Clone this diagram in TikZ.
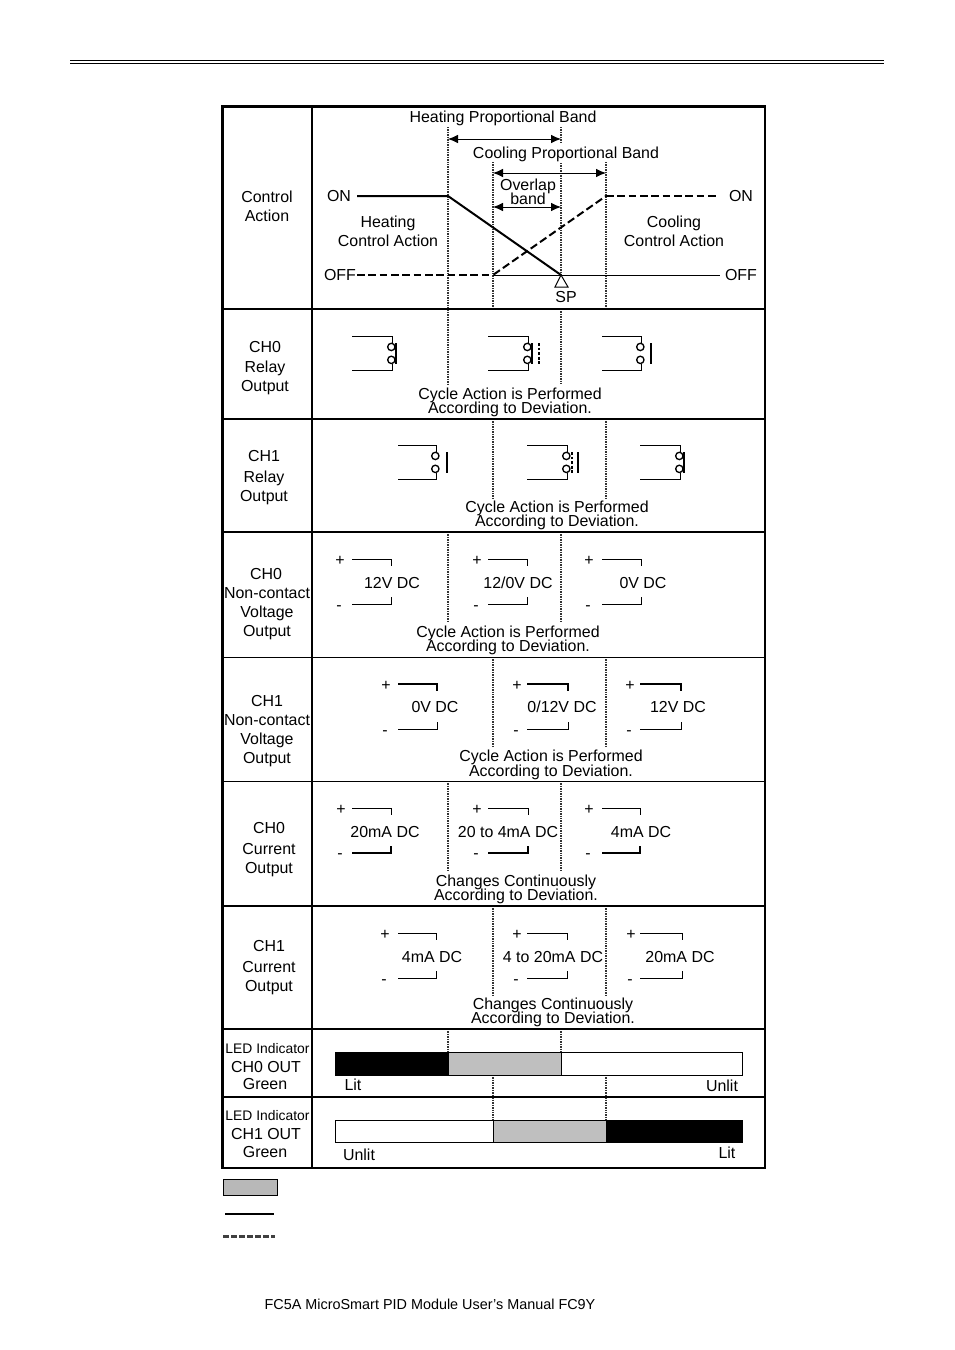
\documentclass[tikz,border=0pt]{standalone}
\usepackage{fontspec}
\setmainfont{Liberation Sans}
\usetikzlibrary{arrows.meta}
\tikzset{
  x=0.75pt,y=-0.75pt,
  frame/.style={line width=1.9pt},
  gridthin/.style={line width=0.7pt},
  dotv/.style={line width=0.85pt,dash pattern=on 1.1pt off 0.75pt,black!80,xshift=0.3pt},
  thinw/.style={line width=0.75pt},
  thickw/.style={line width=1.5pt},
  lab/.style={font=\fontsize{11.95pt}{14pt}\selectfont,inner sep=0pt,anchor=center,text height=8.6pt,text depth=0pt},
  smalllab/.style={font=\fontsize{10.4pt}{12pt}\selectfont,inner sep=0pt,anchor=center,text height=7.5pt,text depth=0pt},
  dim/.style={line width=0.75pt,{Latex[length=7.5pt,width=6.5pt]}-{Latex[length=7.5pt,width=6.5pt]}},
  coil/.style={draw,line width=1pt,fill=white,circle,inner sep=0pt,minimum size=5.5pt},
}
% relay symbol: #1 name prefix, #2 left x, #3 right x, #4 top y, #5 bottom y
\newcommand{\relaybody}[5]{%
  \coordinate (#1tl) at (#2,#4);
  \coordinate (#1tr) at (#3,#4);
  \coordinate (#1bl) at (#2,#5);
  \coordinate (#1br) at (#3,#5);
  \node[coil] (#1u) at ([xshift=-0.5pt,yshift=-8.2pt]#1tr) {};
  \node[coil] (#1d) at ([xshift=-0.5pt,yshift=7.6pt]#1br) {};
  \draw[thinw] (#1tl) -- (#1tr) -- ([xshift=0.5pt]#1u.north);
  \draw[thinw] (#1bl) -- (#1br) -- ([xshift=0.5pt]#1d.south);
}
% output bracket: #1 prefix, #2 left x, #3 right x, #4 top y, #5 bottom y, #6 top style, #7 bottom style
\newcommand{\outbracket}[7]{%
  \coordinate (#1tl) at (#2,#4);
  \coordinate (#1tr) at (#3,#4);
  \coordinate (#1te) at (#3,#4+7);
  \coordinate (#1bl) at (#2,#5);
  \coordinate (#1br) at (#3,#5);
  \coordinate (#1be) at (#3,#5-7);
  \draw[#6] (#1tl) -- (#1tr) -- (#1te);
  \draw[#7] (#1bl) -- (#1br) -- (#1be);
}
\begin{document}
\begin{tikzpicture}
\useasboundingbox (0,0) rectangle (954,1350);
\fill[white] (0,0) rectangle (954,1350);

% header rule
\coordinate (ha) at (70,60.6); \coordinate (hb) at (884,60.6);
\coordinate (hc) at (70,63); \coordinate (hd) at (884,63);
\draw[line width=1.3pt] (ha) -- (hb);
\draw[line width=0.6pt] (hc) -- (hd);

% dotted verticals
\foreach \xa/\ya/\yb in {448/127/385,561/127/143,561/163/275,561/309/385,493/162/309,606/162/309,
  493/419/498,606/419/498,448/532/623,561/532/623,493/657/747,606/657/747,
  448/781/872,561/781/872,493/906/995,606/906/995,448/1029/1052,561/1029/1052,
  493/1075/1120,606/1075/1120}{
  \coordinate (va) at (\xa,\ya); \coordinate (vb) at (\xa,\yb);
  \draw[dotv] (va) -- (vb);
}

% table
\coordinate (tl) at (222.5,106.5); \coordinate (br) at (765,1168);
\draw[frame] (tl) rectangle (br);
\coordinate (vt) at (312,106.5); \coordinate (vbm) at (312,1168);
\draw[frame] (vt) -- (vbm);
\foreach \yy in {309,419,906,1029,1097}{
  \coordinate (ga) at (222.5,\yy); \coordinate (gb) at (765,\yy);
  \draw[line width=1.6pt] (ga) -- (gb);
}
\coordinate (ga) at (222.5,532); \coordinate (gb) at (765,532);
\draw[line width=1.2pt] (ga) -- (gb);
\foreach \yy in {657,781}{
  \coordinate (ga) at (222.5,\yy); \coordinate (gb) at (765,\yy);
  \draw[gridthin] (ga) -- (gb);
}

% control action graph
\coordinate (onl) at (357,196); \coordinate (k1) at (448,196);
\coordinate (sp) at (561,275); \coordinate (k2) at (493,275);
\coordinate (k3) at (606,196); \coordinate (onr) at (717,196);
\coordinate (offl) at (357,275); \coordinate (offr) at (720,275);
\draw[thinw] (k2) -- (offr);
\draw[thickw] (onl) -- (k1) -- (sp);
\draw[thickw,dash pattern=on 5.8pt off 2.7pt] (offl) -- (k2);
\draw[thickw,dash pattern=on 5.8pt off 2.7pt,dash phase=8pt] (k2) -- (k3);
\draw[thickw,dash pattern=on 5.8pt off 2.7pt] (k3) -- (onr);
\coordinate (tri1) at (555,287); \coordinate (tri2) at (568,287);
\draw[thinw,fill=white] (sp) -- (tri1) -- (tri2) -- cycle;

\coordinate (a1) at (448,139); \coordinate (a2) at (561,139);
\draw[dim] (a1) -- (a2);
\coordinate (a3) at (493,173); \coordinate (a4) at (606,173);
\draw[dim] (a3) -- (a4);
\coordinate (a5) at (493,207); \coordinate (a6) at (561,207);
\draw[dim] (a5) -- (a6);

\node[lab] (n1) at (503,117) {Heating Proportional Band};
\node[lab] (n2) at (566,153) {Cooling Proportional Band};
\node[lab] (n3) at (528,185) {Overlap};
\node[lab] (n4) at (528,199) {band};
\node[lab] (n5) at (339,196) {ON};
\node[lab] (n6) at (741,196) {ON};
\node[lab] (n7) at (388,222) {Heating};
\node[lab] (n8) at (388,241) {Control Action};
\node[lab] (n9) at (674,222) {Cooling};
\node[lab] (n10) at (674,241) {Control Action};
\node[lab] (n11) at (340,275) {OFF};
\node[lab] (n12) at (741,275) {OFF};
\node[lab] (n13) at (566,297) {SP};

% left column
\node[lab] (l1) at (267,197) {Control};
\node[lab] (l2) at (267,216) {Action};
\node[lab] (l3) at (265,347) {CH0};
\node[lab] (l4) at (265,367) {Relay};
\node[lab] (l5) at (265,386) {Output};
\node[lab] (l6) at (264,456) {CH1};
\node[lab] (l7) at (264,477) {Relay};
\node[lab] (l8) at (264,496) {Output};
\node[lab] (l9) at (266,574) {CH0};
\node[lab] (l10) at (267,593) {Non-contact};
\node[lab] (l11) at (267,612) {Voltage};
\node[lab] (l12) at (267,631) {Output};
\node[lab] (l13) at (267,701) {CH1};
\node[lab] (l14) at (267,720) {Non-contact};
\node[lab] (l15) at (267,739) {Voltage};
\node[lab] (l16) at (267,758) {Output};
\node[lab] (l17) at (269,828) {CH0};
\node[lab] (l18) at (269,849) {Current};
\node[lab] (l19) at (269,868) {Output};
\node[lab] (l20) at (269,946) {CH1};
\node[lab] (l21) at (269,967) {Current};
\node[lab] (l22) at (269,986) {Output};
\node[smalllab] (l23) at (267.5,1048) {LED Indicator};
\node[lab] (l24) at (266,1067) {CH0 OUT};
\node[lab] (l25) at (265,1084) {Green};
\node[smalllab] (l26) at (267.5,1115) {LED Indicator};
\node[lab] (l27) at (266,1134) {CH1 OUT};
\node[lab] (l28) at (265,1152) {Green};

% relays row 0
\relaybody{ra}{352}{392}{336}{370}
\coordinate (b1) at (396,343); \coordinate (b2) at (396,364);
\draw[thickw] (b1) -- (b2);
\relaybody{rb}{488}{528}{336}{370}
\coordinate (b1) at (532,343); \coordinate (b2) at (532,364);
\draw[thickw] (b1) -- (b2);
\coordinate (b1) at (539,343); \coordinate (b2) at (539,364);
\draw[thickw,dash pattern=on 2.2pt off 1.2pt] (b1) -- (b2);
\relaybody{rc}{602}{641}{336}{370}
\coordinate (b1) at (651,343); \coordinate (b2) at (651,364);
\draw[thickw] (b1) -- (b2);

% relays row 1
\relaybody{rd}{398}{436}{445}{479}
\coordinate (b1) at (447,452); \coordinate (b2) at (447,473);
\draw[thickw] (b1) -- (b2);
\relaybody{re}{527}{567}{445}{479}
\coordinate (b1) at (572,452); \coordinate (b2) at (572,473);
\draw[thickw,dash pattern=on 2.2pt off 1.2pt] (b1) -- (b2);
\coordinate (b1) at (578,452); \coordinate (b2) at (578,473);
\draw[thickw] (b1) -- (b2);
\relaybody{rf}{640}{680}{445}{479}
\coordinate (b1) at (684,452); \coordinate (b2) at (684,473);
\draw[thickw] (b1) -- (b2);

% notes
\foreach \nn/\xx/\ya/\yb/\ta/\tb in {
 a/510/394/408/Cycle Action is Performed/According to Deviation.,
 b/557/507/521/Cycle Action is Performed/According to Deviation.,
 c/508/632/646/Cycle Action is Performed/According to Deviation.,
 d/551/756/771/Cycle Action is Performed/According to Deviation.,
 e/516/881/895/Changes Continuously/According to Deviation.,
 f/553/1004/1018/Changes Continuously/According to Deviation.}{
  \node[lab] (note\nn1) at (\xx,\ya) {\ta};
  \node[lab] (note\nn2) at (\xx,\yb) {\tb};
}

% output brackets
\outbracket{oa}{352}{391}{559}{604}{thinw}{thinw}
\outbracket{ob}{488}{527}{559}{604}{thinw}{thinw}
\outbracket{oc}{602}{641}{559}{604}{thinw}{thinw}
\outbracket{od}{398}{437}{684}{729}{line width=1.2pt}{thinw}
\outbracket{oe}{527}{568}{684}{729}{line width=1.2pt}{thinw}
\outbracket{of}{640}{681}{684}{729}{line width=1.2pt}{thinw}
\outbracket{og}{352}{391}{808}{853}{thinw}{line width=1.2pt}
\outbracket{oh}{488}{528}{808}{853}{thinw}{line width=1.2pt}
\outbracket{oi}{602}{640}{808}{853}{thinw}{line width=1.2pt}
\outbracket{oj}{398}{436}{933}{978}{thinw}{thinw}
\outbracket{ok}{527}{567}{933}{978}{thinw}{thinw}
\outbracket{ol}{640}{682}{933}{978}{thinw}{thinw}

\foreach \nn/\xx/\ya/\yb/\xt/\yt/\tx in {
 a/340/560/605/392/583/12V DC,
 b/477/560/605/518/583/12\slash 0V DC,
 c/589/560/605/643/583/0V DC,
 d/386/685/730/435/707/0V DC,
 e/517/685/730/562/707/0\slash 12V DC,
 f/630/685/730/678/707/12V DC,
 g/341/809/853/385/832/20mA DC,
 h/477/809/853/508/832/20 to 4mA DC,
 i/589/809/853/641/832/4mA DC,
 j/385/934/979/432/957/4mA DC,
 k/517/934/979/553/957/4 to 20mA DC,
 l/631/934/979/680/957/20mA DC}{
  \node[lab] (p\nn) at (\xx,\ya) {+};
  \node[lab] (m\nn) at (\xx-1,\yb) {-};
  \node[lab] (t\nn) at (\xt,\yt) {\tx};
}

% LED bars
\fill[black] (335,1052) rectangle (448,1075);
\fill[black!25] (448,1052) rectangle (561,1075);
\draw[thinw] (335,1052) rectangle (742.5,1075);
\draw[thinw] (448,1052) -- (448,1075) (561,1052) -- (561,1075);
\fill[black!25] (493,1120) rectangle (606,1142);
\fill[black] (606,1120) rectangle (742.5,1142);
\draw[thinw] (335,1120) rectangle (742.5,1142);
\draw[thinw] (493,1120) -- (493,1142);
\node[lab] (s1) at (353,1085) {Lit};
\node[lab] (s2) at (722,1086) {Unlit};
\node[lab] (s3) at (359,1155) {Unlit};
\node[lab] (s4) at (727,1153) {Lit};

% legend
\draw[thinw,fill=black!28] (223,1179) rectangle (277,1195);
\coordinate (la) at (225,1214); \coordinate (lb) at (274,1214);
\draw[thickw] (la) -- (lb);
\coordinate (la) at (223,1236.5); \coordinate (lb) at (275,1236.5);
\draw[line width=1.6pt,dash pattern=on 4.5pt off 1.5pt,black!75] (la) -- (lb);

% footer
\node[font=\fontsize{10.8pt}{12pt}\selectfont,inner sep=0pt] (foot) at (430,1304) {FC5A MicroSmart PID Module User’s Manual FC9Y};
\end{tikzpicture}
\end{document}
